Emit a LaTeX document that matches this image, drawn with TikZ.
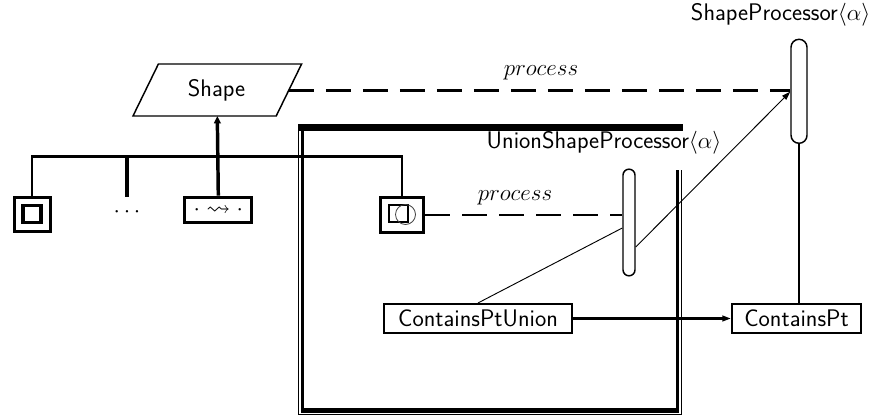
\documentclass[tikz,border=0pt]{standalone}
\usepackage{amssymb}
\usetikzlibrary{arrows.meta,calc}
\begin{document}
\begin{tikzpicture}[x=0.75pt,y=-0.75pt,
  every node/.style={font=\fontsize{18}{21}\selectfont\sffamily},
  mathlbl/.style={font=\fontsize{17}{20}\selectfont},
  cbox/.style={draw, line width=1.2pt, minimum height=22.1pt, inner sep=0pt},
  iconbox/.style={draw, line width=2.4pt, inner sep=0pt},
  pill/.style={draw, line width=1.1pt, inner sep=0pt},
  busline/.style={line width=1.9pt},
  mainarrow/.style={line width=2.6pt, -{Triangle[length=5.5pt,width=5pt]}},
  dashline/.style={line width=1.6pt, dash pattern=on 18.75pt off 9pt},
  thinline/.style={line width=0.7pt},
  arrowtip/.style={-{Triangle[length=6.5pt,width=4.2pt]}},
  frameink/.style={fill=black}
]
\useasboundingbox (0,0) rectangle (880,417);

% frame of UnionShapeProcessor
\fill[frameink] (298,124) rectangle (682.7,131);
\fill[frameink] (300.6,128) rectangle (304,413);
\fill[frameink] (300.6,408.2) rectangle (679,413);
\fill[frameink] (676,170) rectangle (679,413);
\fill[frameink] (297.6,124) rectangle (298.9,415.4);
\fill[frameink] (297.6,414.2) rectangle (682.3,415.4);
\fill[frameink] (681,170) rectangle (682.3,415.4);

% Shape (parallelogram)
\draw[line width=1.1pt] (133,116) -- (158.4,64) -- (301.6,64) -- (276.2,116) -- cycle;
\node (shape) at (216.5,90) {Shape};
\coordinate (shapeE) at (288.9,90.5);
\coordinate (shapeS) at (217.3,116);

% labels
\node[anchor=base east] (splbl) at (875,21) {ShapeProcessor$\langle\alpha\rangle$};
\node[anchor=base west] (usplbl) at (482,148) {UnionShapeProcessor$\langle\alpha\rangle$};
\node[mathlbl, anchor=base] (proc1) at (541,76) {$process$};
\node[mathlbl, anchor=base] (proc2) at (515,200) {$process$};

% processors (pills)
\node[pill, minimum width=12pt, minimum height=78pt, rounded corners=6pt] (op) at (799,91.3) {};
\node[pill, minimum width=9pt, minimum height=80pt, rounded corners=4.5pt] (ip) at (629,222.5) {};

% icons
\node[iconbox, minimum width=27pt, minimum height=25.5pt] (iconA) at (32.2,214.2) {};
\node[iconbox, minimum width=13.5pt, minimum height=12.75pt] (iconAin) at (32,214) {};
\node[iconbox, minimum width=50.25pt, minimum height=19pt] (tilde) at (218.3,209.9) {$\cdot\rightsquigarrow\cdot$};
\node[inner sep=0pt] (dots) at (127,212) {$\cdots$};
\node[iconbox, minimum width=32.25pt, minimum height=26.5pt] (iconU) at (402,214.9) {};
\node[draw, line width=1.5pt, minimum width=14.25pt, minimum height=13pt, inner sep=0pt] (iconUsq) at (398.8,213.7) {};
\node[draw=black!75, line width=0.6pt, circle, minimum size=15pt, inner sep=0pt] (iconUci) at (405.5,214.5) {};

% bus
\coordinate (busL) at (32.2,156.7);
\coordinate (busR) at (402,156.7);
\coordinate (stubT) at (127,156.7);
\coordinate (stubB) at (127,196.7);
\draw[busline] (iconA.north) -- (busL) -- (busR) -- (iconU.north);
\draw[line width=2.6pt] (stubT) -- (stubB);
\draw[mainarrow] (tilde.north) -- (shapeS);

% process calls
\draw[dashline] (shapeE) -- (shapeE -| op.west);
\draw[dashline] (iconU.east) -- (iconU.east -| ip.west);

% method boxes
\node[cbox, minimum width=141.4pt] (cpu) at (478,318.5) {ContainsPtUnion};
\node[cbox, minimum width=97.1pt] (cp) at (796.5,318.5) {ContainsPt};
\draw[line width=1.6pt, arrowtip] (cpu.east) -- (cp.west);
\draw[line width=1.6pt] (op.south) -- (op.south |- cp.north);

% thin call lines
\draw[thinline] (cpu.north) -- ($(ip.west)+(0,5.5)$);
\draw[thinline, arrowtip] ($(ip.east)+(0,24.5)$) -- ($(op.west)+(0,0.4)$);
\end{tikzpicture}
\end{document}
